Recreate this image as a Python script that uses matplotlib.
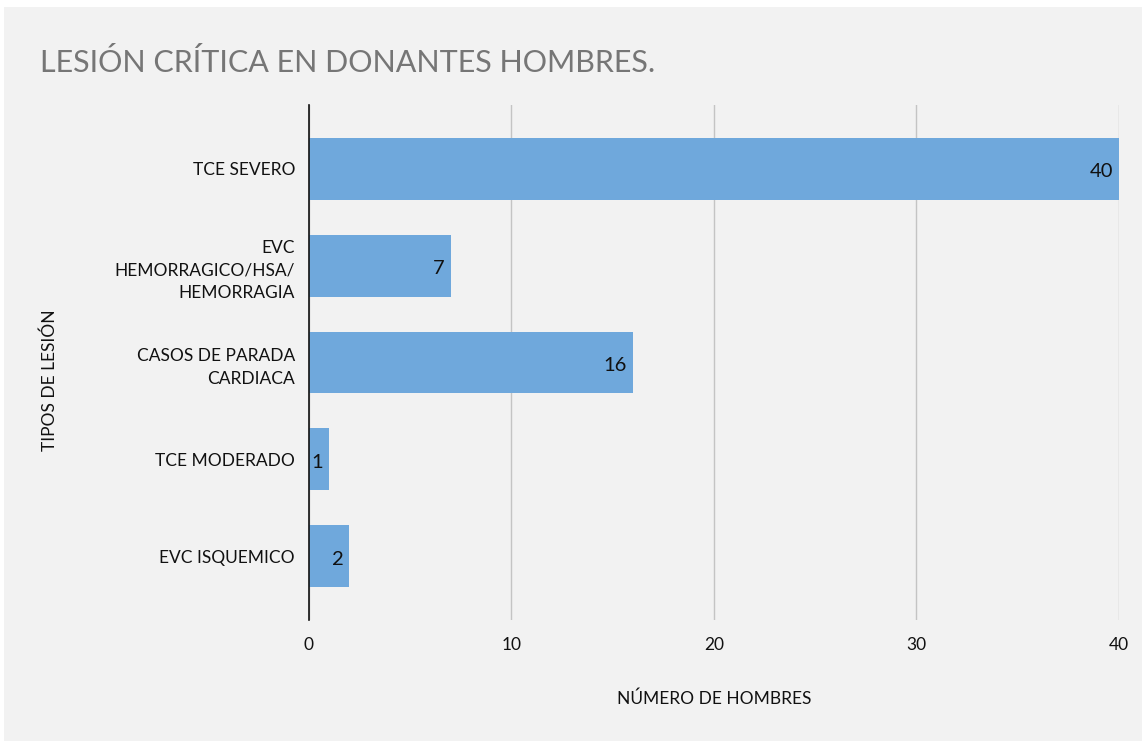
import matplotlib.pyplot as plt
from matplotlib.patches import Rectangle

# Data (top to bottom)
categories = ['TCE SEVERO', 'EVC\nHEMORRAGICO/HSA/\nHEMORRAGIA', 'CASOS DE PARADA\nCARDIACA',
              'TCE MODERADO', 'EVC ISQUEMICO']
counts = [40, 7, 16, 1, 2]

plt.rcParams['font.family'] = ['Lato', 'DejaVu Sans']

fig = plt.figure(figsize=(11.46, 7.43), dpi=100)
fig.patch.set_facecolor('white')

# Gray panel behind the chart
fig.add_artist(Rectangle((4 / 1146, 2 / 743), 1138 / 1146, 734 / 743,
                         transform=fig.transFigure, facecolor='#f2f2f2',
                         edgecolor='none', zorder=-1))

ax = fig.add_axes([0.2696, 0.1655, 0.7068, 0.6932])
ax.set_facecolor('none')
ax.set_zorder(1)

ypos = list(range(len(categories)))
ax.barh(ypos, counts, height=0.64, color='#6fa8dc', zorder=3)

for y, v in zip(ypos, counts):
    ax.text(v - 0.3, y + 0.03, str(v), ha='right', va='center', fontsize=14.5,
            color='#111111', zorder=4)

ax.set_xlim(0, 40)
ax.set_ylim(len(categories) - 0.34, -0.66)
ax.set_xticks([0, 10, 20, 30, 40])
ax.set_yticks(ypos)
ax.set_yticklabels(categories, fontsize=12.5, linespacing=1.5)
ax.tick_params(axis='both', length=0, colors='#111111')
ax.tick_params(axis='x', pad=12, labelsize=12.5)
ax.tick_params(axis='y', pad=10)

ax.grid(axis='x', color='#c4c4c4', linewidth=1, zorder=1)
for s in ['top', 'right', 'bottom']:
    ax.spines[s].set_visible(False)
ax.spines['left'].set_color('#111111')
ax.spines['left'].set_linewidth(1.2)
ax.spines['left'].set_zorder(5)

ax.set_xlabel('NÚMERO DE HOMBRES', fontsize=12.5, color='#111111', labelpad=27)
fig.text(50 / 1146, 1 - 380 / 743, 'TIPOS DE LESIÓN', rotation=90, fontsize=12.5,
         color='#111111', ha='center', va='center')

fig.text(40 / 1146, 1 - 62 / 743, 'LESIÓN CRÍTICA EN DONANTES HOMBRES.', fontsize=22,
         color='#767676', ha='left', va='center')

fig.savefig('out.png', dpi=100, facecolor=fig.get_facecolor())
